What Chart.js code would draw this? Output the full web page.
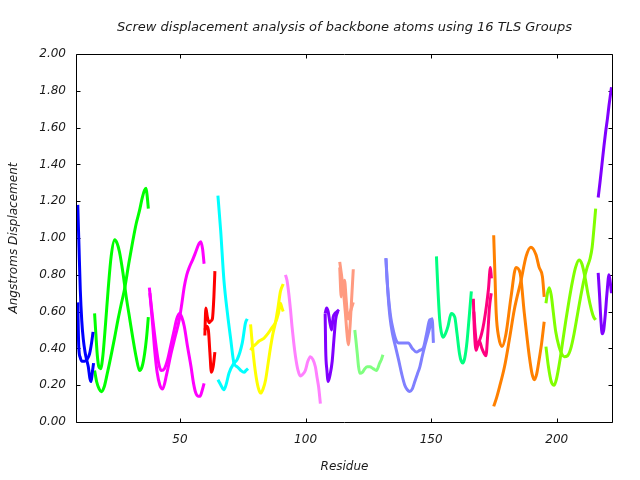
<!DOCTYPE html>
<html>
<head>
<meta charset="utf-8">
<title>Screw displacement</title>
<script src="https://cdn.jsdelivr.net/npm/chart.js@4/dist/chart.umd.min.js"></script>
<style>
  html, body { margin: 0; padding: 0; background: #fff; }
  #grafico { display: block; }
</style>
</head>
<body>
<canvas id="grafico" width="640" height="480"></canvas>
<script>
// Marcas dos eixos
const ticksX = [50, 100, 150, 200];
const ticksY = [0.0, 0.2, 0.4, 0.6, 0.8, 1.0, 1.2, 1.4, 1.6, 1.8, 2.0];
const limitesX = [9, 222];

// Cores dos 16 grupos TLS, na ordem em que aparecem
const coresGrupos = [
    "#0000ff", "#00ff00", "#ff00ff", "#ff0000", "#00ffff", "#ffff00",
    "#ff80ff", "#8000ff", "#ff9a80", "#80ff80", "#8080ff", "#00ff80",
    "#ff0080", "#ff8000", "#80ff00", "#8000ff",
];

// Cada grupo: curvas [residuo, deslocamento]
const grupo01A = [[9.3,1.18],[9.8,0.95],[10.3,0.72],[10.9,0.55],[11.5,0.45],[12.2,0.38],[12.8,0.34],[13.5,0.30],[14.1,0.24],[14.6,0.22],[15.1,0.27],[15.6,0.32]];
const grupo01B = [[9.3,0.65],[9.7,0.41],[10.3,0.35],[11.0,0.33],[12.0,0.33],[13.0,0.34],[14.0,0.37],[14.8,0.43],[15.4,0.49]];

const grupo02A = [[16.0,0.59],[16.5,0.48],[17.1,0.36],[17.7,0.30],[18.4,0.29],[19.3,0.36],[20.4,0.54],[21.4,0.72],[22.6,0.90],[24.0,0.99],[25.0,0.97],[25.9,0.925],[27.3,0.81],[28.6,0.68],[30.0,0.56],[31.3,0.45],[32.6,0.35],[33.9,0.28],[34.9,0.30],[35.9,0.37],[36.7,0.46],[37.4,0.57]];
const grupo02B = [[16.0,0.28],[16.8,0.22],[17.8,0.18],[18.7,0.165],[19.8,0.19],[21.0,0.26],[22.7,0.37],[24.0,0.46],[25.3,0.555],[26.6,0.64],[27.9,0.72],[29.6,0.86],[31.3,0.99],[32.6,1.08],[33.9,1.15],[35.0,1.22],[35.9,1.26],[36.5,1.27],[37.0,1.22],[37.4,1.16]];

const grupo03A = [[37.8,0.73],[38.5,0.64],[39.2,0.555],[40.5,0.41],[41.5,0.32],[42.5,0.28],[43.8,0.29],[45.1,0.34],[46.4,0.42],[47.7,0.50],[48.7,0.56],[49.7,0.59],[50.7,0.57],[51.7,0.52],[53.0,0.41],[54.4,0.30],[55.4,0.21],[56.3,0.157],[57.2,0.14],[58.0,0.14],[58.8,0.17],[59.6,0.21]];
const grupo03B = [[38.0,0.70],[39.0,0.55],[40.0,0.38],[40.9,0.27],[42.0,0.20],[43.1,0.18],[44.7,0.26],[46.4,0.37],[48.0,0.46],[49.7,0.555],[50.7,0.64],[51.7,0.735],[52.7,0.80],[53.7,0.84],[55.0,0.88],[56.3,0.925],[57.6,0.97],[58.3,0.98],[59.0,0.94],[59.6,0.86]];

const grupo04A = [[59.9,0.47],[60.3,0.62],[60.9,0.57],[61.6,0.54],[62.4,0.55],[62.9,0.56],[63.5,0.68],[63.9,0.82]];
const grupo04B = [[59.9,0.50],[60.6,0.52],[61.3,0.50],[61.9,0.38],[62.5,0.27],[63.2,0.30],[63.9,0.38]];

const grupo05A = [[65.1,1.23],[66.2,1.04],[67.5,0.77],[68.9,0.59],[70.2,0.45],[71.5,0.32],[72.8,0.30],[74.2,0.28],[75.5,0.27],[76.3,0.28],[77.1,0.29]];
const grupo05B = [[65.1,0.23],[66.3,0.20],[67.5,0.175],[68.5,0.21],[69.5,0.265],[71.5,0.32],[72.8,0.34],[74.8,0.43],[76.1,0.54],[76.8,0.56]];

const grupo06A = [[78.1,0.53],[79.1,0.38],[80.1,0.265],[81.1,0.19],[82.1,0.157],[83.1,0.18],[84.1,0.23],[85.1,0.32],[86.1,0.41],[87.0,0.48],[88.0,0.54],[89.0,0.62],[90.0,0.71],[91.1,0.75]];
const grupo06B = [[78.1,0.39],[79.0,0.41],[80.0,0.42],[81.5,0.44],[83.4,0.455],[85.0,0.48],[86.5,0.51],[88.0,0.54],[89.2,0.59],[90.0,0.645],[90.6,0.62],[91.1,0.60]];

const grupo07A = [[92.0,0.80],[92.6,0.77],[93.3,0.70],[94.0,0.61],[94.6,0.52],[95.3,0.43],[96.0,0.355],[97.0,0.28],[97.9,0.25],[98.9,0.26],[99.9,0.28],[100.9,0.33],[101.9,0.355],[102.9,0.34],[103.9,0.30],[104.6,0.24],[105.2,0.19],[105.9,0.10]];

const grupo08A = [[107.8,0.59],[108.0,0.40],[108.5,0.28],[109.0,0.22],[109.8,0.26],[110.6,0.33],[111.3,0.45],[112.0,0.56],[112.8,0.60]];
const grupo08B = [[107.8,0.59],[108.4,0.62],[109.0,0.60],[109.7,0.54],[110.4,0.50],[111.0,0.57],[111.7,0.59],[112.5,0.60],[113.3,0.61]];

const grupo09A = [[113.6,0.87],[114.3,0.80],[115.0,0.72],[115.8,0.60],[116.5,0.48],[117.0,0.42],[117.6,0.50],[118.3,0.66],[119.0,0.83]];
const grupo09B = [[113.6,0.84],[114.2,0.68],[114.8,0.74],[115.5,0.77],[116.2,0.66],[116.9,0.56],[117.6,0.59],[118.3,0.62],[119.0,0.65]];

const grupo10A = [[119.6,0.50],[120.0,0.45],[120.6,0.37],[121.1,0.30],[121.6,0.265],[122.6,0.27],[123.6,0.29],[124.6,0.30],[125.6,0.30],[126.9,0.29],[128.2,0.28],[129.5,0.32],[130.2,0.34],[130.8,0.365]];

const grupo11A = [[132.0,0.89],[132.4,0.78],[133.0,0.68],[133.9,0.57],[134.9,0.50],[135.9,0.45],[136.9,0.43],[138.9,0.43],[140.9,0.43],[142.5,0.40],[144.2,0.38],[145.5,0.39],[146.8,0.40],[148.2,0.48],[149.4,0.555],[150.7,0.56]];
const grupo11B = [[132.0,0.89],[132.8,0.70],[133.6,0.57],[134.6,0.48],[135.8,0.41],[137.0,0.34],[138.3,0.26],[139.5,0.20],[140.5,0.175],[141.5,0.166],[142.5,0.18],[143.5,0.22],[144.5,0.26],[145.5,0.30],[146.5,0.36],[147.6,0.42],[148.8,0.48],[149.8,0.53],[150.4,0.56],[150.9,0.43]];

const grupo12A = [[152.1,0.90],[152.7,0.72],[153.4,0.555],[154.0,0.49],[154.7,0.46],[155.7,0.48],[156.7,0.52],[158.0,0.59],[159.4,0.57],[160.3,0.48],[161.3,0.37],[162.0,0.33],[162.6,0.32],[163.4,0.35],[164.3,0.44],[165.2,0.58],[166.0,0.71]];

const grupo13A = [[166.8,0.67],[167.2,0.50],[167.9,0.39],[168.6,0.42],[169.2,0.44],[170.2,0.40],[171.2,0.37],[171.8,0.36],[172.5,0.47],[173.2,0.62],[173.9,0.70]];
const grupo13B = [[167.0,0.60],[167.5,0.50],[168.3,0.41],[169.2,0.44],[170.1,0.48],[171.0,0.54],[172.0,0.63],[172.8,0.72],[173.6,0.84],[174.0,0.78]];

const grupo14A = [[174.9,1.015],[175.4,0.80],[175.9,0.59],[176.9,0.46],[178.2,0.41],[179.8,0.48],[181.8,0.68],[183.8,0.84],[185.4,0.81],[187.1,0.59],[189.1,0.355],[190.2,0.26],[191.1,0.23],[192.0,0.26],[193.0,0.34],[194.0,0.43],[195.0,0.545]];
const grupo14B = [[174.9,0.085],[176.0,0.13],[177.2,0.19],[179.2,0.30],[181.1,0.445],[183.1,0.61],[185.8,0.77],[187.8,0.90],[189.7,0.95],[191.7,0.91],[193.0,0.84],[194.3,0.79],[195.0,0.68]];

const grupo15A = [[195.7,0.645],[196.3,0.70],[197.0,0.73],[197.8,0.69],[198.6,0.60],[199.6,0.49],[200.9,0.41],[202.0,0.37],[203.0,0.355],[204.3,0.36],[205.6,0.40],[206.9,0.48],[208.2,0.58],[209.5,0.68],[210.8,0.77],[212.1,0.84],[213.3,0.89],[214.1,0.95],[214.8,1.05],[215.5,1.16]];
const grupo15B = [[195.7,0.41],[196.7,0.30],[197.8,0.22],[199.0,0.20],[200.0,0.24],[201.2,0.33],[202.4,0.44],[203.6,0.55],[204.9,0.66],[206.2,0.76],[207.5,0.84],[208.9,0.88],[210.0,0.86],[211.2,0.79],[212.5,0.69],[213.8,0.61],[214.7,0.57],[215.5,0.555]];

const grupo16A = [[216.5,1.22],[217.2,1.30],[218.0,1.40],[218.8,1.50],[219.5,1.58],[220.2,1.65],[220.8,1.72],[221.4,1.78],[221.8,1.82]];
const grupo16B = [[216.5,0.81],[217.0,0.70],[217.6,0.55],[218.1,0.48],[218.7,0.50],[219.3,0.58],[220.0,0.70],[220.8,0.80],[221.3,0.76],[221.8,0.70]];

// Curvas e o grupo (índice da cor) a que pertencem
const curvas = [
    [grupo01A, 0], [grupo01B, 0], [grupo02A, 1], [grupo02B, 1],
    [grupo03A, 2], [grupo03B, 2], [grupo04A, 3], [grupo04B, 3],
    [grupo05A, 4], [grupo05B, 4], [grupo06A, 5], [grupo06B, 5],
    [grupo07A, 6], [grupo08A, 7], [grupo08B, 7], [grupo09A, 8],
    [grupo09B, 8], [grupo10A, 9], [grupo11A, 10], [grupo11B, 10],
    [grupo12A, 11], [grupo13A, 12], [grupo13B, 12], [grupo14A, 13],
    [grupo14B, 13], [grupo15A, 14], [grupo15B, 14], [grupo16A, 15],
    [grupo16B, 15],
];

const FONTE = "'DejaVu Sans', sans-serif";
const COR_TEXTO = "#1a1a1a";
const TAM_MARCA = 4;

/** Moldura completa com marcas voltadas para dentro (estilo gnuplot). */
const moldura = {
    id: "moldura",
    beforeDatasetsDraw(chart) {
        const { ctx, chartArea: a, scales: { x, y } } = chart;
        const esq = Math.round(a.left) - 0.5;
        const dir = Math.round(a.right) + 0.5;
        const topo = Math.round(a.top) + 0.5;
        const base = Math.round(a.bottom) + 0.5;
        ctx.save();
        ctx.strokeStyle = "#000";
        ctx.lineWidth = 1;
        ctx.beginPath();
        ctx.rect(esq, topo, dir - esq, base - topo);
        ticksX.forEach((v) => {
            const px = Math.round(x.getPixelForValue(v)) + 0.5;
            ctx.moveTo(px, base); ctx.lineTo(px, base - TAM_MARCA);
            ctx.moveTo(px, topo); ctx.lineTo(px, topo + TAM_MARCA);
        });
        ticksY.forEach((v) => {
            const py = Math.round(y.getPixelForValue(v)) + 0.5;
            ctx.moveTo(esq, py); ctx.lineTo(esq + TAM_MARCA, py);
            ctx.moveTo(dir, py); ctx.lineTo(dir - TAM_MARCA, py);
        });
        ctx.stroke();
        ctx.restore();
    },
};

const datasets = curvas.map(([pontos, g]) => ({
    data: pontos.map(([r, d]) => ({ x: r, y: d })),
    borderColor: coresGrupos[g],
    borderWidth: 3,
    pointRadius: 0,
    fill: false,
    cubicInterpolationMode: "monotone",
}));

new Chart(document.getElementById("grafico"), {
    type: "line",
    data: { datasets },
    options: {
        responsive: false,
        animation: false,
        events: [],
        layout: { padding: { left: 0, right: 28, top: 0, bottom: 0 } },
        plugins: {
            legend: { display: false },
            tooltip: { enabled: false },
            title: {
                display: true,
                fullSize: false, // centra o título sobre a área do gráfico
                text: "Screw displacement analysis of backbone atoms using 16 TLS Groups",
                color: COR_TEXTO,
                font: { family: FONTE, size: 13, style: "italic", weight: "normal", lineHeight: 1.2 },
                padding: { top: 20, bottom: 18.4 },
            },
        },
        scales: {
            x: {
                type: "linear",
                min: limitesX[0],
                max: limitesX[1],
                grid: { display: false, drawTicks: false },
                border: { display: false },
                afterBuildTicks: (s) => { s.ticks = ticksX.map((v) => ({ value: v })); },
                afterFit: (s) => { s.height = 58; },
                ticks: {
                    color: COR_TEXTO,
                    padding: 11,
                    maxRotation: 0,
                    font: { family: FONTE, size: 12, style: "italic" },
                    callback: (v) => String(v),
                },
                title: {
                    display: true,
                    text: "Residue",
                    color: COR_TEXTO,
                    font: { family: FONTE, size: 12, style: "italic", lineHeight: 1.2 },
                    padding: { top: 0, bottom: 6 },
                },
            },
            y: {
                type: "linear",
                min: 0,
                max: 2,
                grid: { display: false, drawTicks: false },
                border: { display: false },
                afterBuildTicks: (s) => { s.ticks = ticksY.map((v) => ({ value: v })); },
                afterFit: (s) => { s.width = 77; },
                ticks: {
                    color: COR_TEXTO,
                    padding: 11,
                    font: { family: FONTE, size: 12, style: "italic" },
                    callback: (v) => Number(v).toFixed(2),
                },
                title: {
                    display: true,
                    text: "Angstroms Displacement",
                    color: COR_TEXTO,
                    font: { family: FONTE, size: 12, style: "italic", lineHeight: 1.2 },
                    padding: { top: 7, bottom: 0 },
                },
            },
        },
    },
    plugins: [moldura],
});
</script>
</body>
</html>
